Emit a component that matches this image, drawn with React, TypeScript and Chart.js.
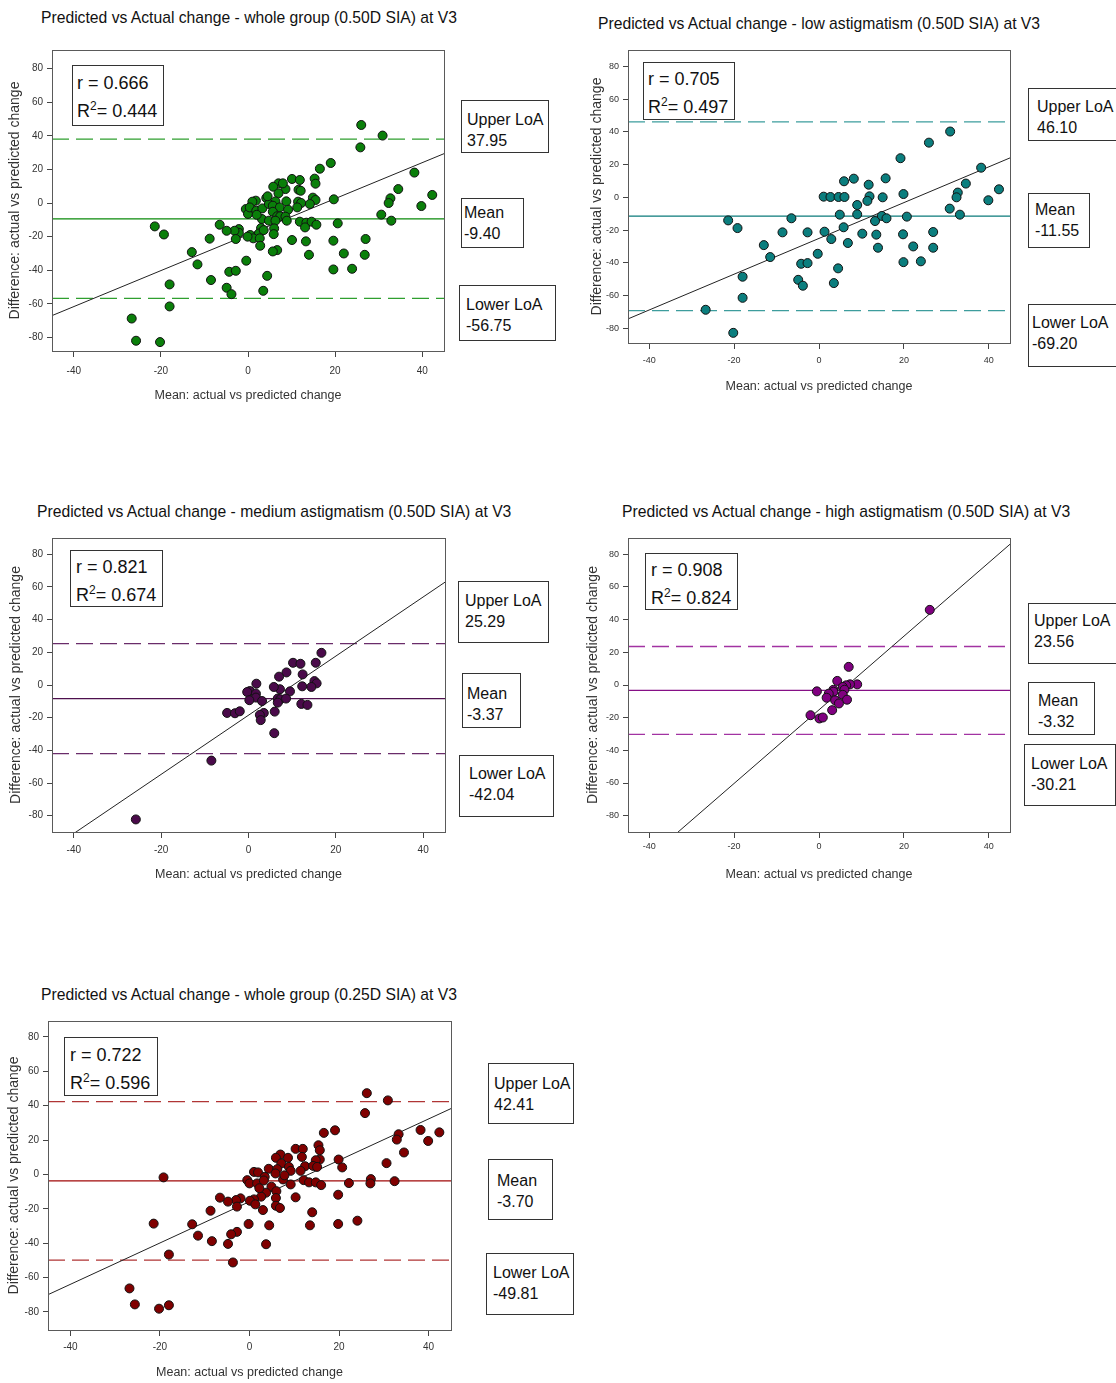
import React, { useEffect, useRef } from "react";
import { Chart, registerables } from "chart.js";

Chart.register(...registerables);

type Pt = [number, number];

// ---------------- shared axis data ----------------
const X_TICKS = [-40, -20, 0, 20, 40];
const Y_TICKS = [-80, -60, -40, -20, 0, 20, 40, 60, 80];
const X_TITLE = "Mean: actual vs predicted change";
const Y_TITLE = "Difference: actual vs predicted change";

const PLOT_TITLES = [
  "Predicted vs Actual change - whole group (0.50D SIA) at V3",
  "Predicted vs Actual change - low astigmatism (0.50D SIA) at V3",
  "Predicted vs Actual change - medium astigmatism (0.50D SIA) at V3",
  "Predicted vs Actual change - high astigmatism (0.50D SIA) at V3",
  "Predicted vs Actual change - whole group (0.25D SIA) at V3",
];

// ---------------- plot 1: whole group 0.50D ----------------
const whole050Points: Pt[] = [
  [26.0, 46.4], [30.9, 40.1], [25.8, 33.1], [19.0, 23.8], [16.5, 20.4], [38.2, 18.1], [34.5, 8.3], [42.3, 4.8],
  [39.8, -1.8], [32.7, 2.8], [32.3, 0.0], [30.6, -6.9], [32.9, -10.5], [19.7, 2.2], [20.6, -12.1], [19.6, -22.4],
  [27.0, -21.4], [26.8, -30.8], [22.0, -30.0], [19.6, -39.5], [23.9, -39.1], [10.1, 14.3], [11.9, 13.7], [15.3, 14.5],
  [15.5, 11.5], [11.6, 7.9], [12.1, 7.3], [8.6, 8.3], [7.0, 11.7], [8.0, 11.7], [5.8, 9.7], [7.0, 5.8],
  [14.9, 3.2], [15.5, 1.8], [11.5, 0.8], [12.2, 0.0], [14.2, -0.6], [11.3, -2.6], [8.8, 1.0], [6.3, 1.0],
  [4.2, 3.0], [1.8, 1.4], [1.0, 0.8], [-0.5, -3.6], [0.0, -6.5], [0.4, -2.6], [1.9, -4.6], [3.3, -3.2],
  [4.8, -0.6], [5.7, -1.6], [7.3, -2.6], [9.2, -4.0], [5.7, -5.2], [6.7, -7.9], [7.4, -7.9], [8.6, -8.1],
  [8.9, -10.5], [3.2, -9.5], [4.8, -10.5], [6.3, -10.5], [11.9, -11.1], [13.4, -11.7], [14.6, -11.1], [15.7, -12.9],
  [13.1, -14.5], [6.0, -15.1], [3.0, -14.9], [5.9, -18.5], [2.5, -18.1], [3.6, -16.1], [0.5, -19.0], [1.2, -21.0],
  [2.7, -21.0], [-0.1, -20.0], [-2.1, -15.5], [-2.1, -17.7], [-3.1, -16.5], [-4.9, -16.5], [-6.5, -12.9], [-2.8, -21.4],
  [-8.8, -21.2], [10.1, -22.0], [13.3, -22.8], [14.0, -30.8], [2.8, -25.4], [6.7, -28.0], [5.7, -28.8], [-0.4, -34.3],
  [-4.3, -40.9], [-2.8, -40.3], [4.4, -43.3], [-4.9, -50.4], [-3.8, -54.2], [3.5, -52.2], [-8.5, -45.8], [-11.6, -36.5],
  [-12.9, -29.2], [-21.4, -13.9], [-19.3, -18.7], [-18.0, -48.4], [-18.0, -61.5], [-26.7, -68.7], [-25.7, -81.9], [-20.2, -82.7],
  [4.5, 4.0], [2.0, -7.0],
];
const whole050Lines = [-9.4, 37.95, -56.75]; // mean, upper LoA, lower LoA
const whole050Fit = [-18.8, 1.07]; // intercept, slope
const whole050Stats = ["0.666", "0.444"]; // r, R²
const whole050Labels = ["37.95", "-9.40", "-56.75"]; // upper, mean, lower

// ---------------- plot 2: low astigmatism ----------------
const lowPoints: Pt[] = [
  [30.9, 40.2], [25.9, 33.4], [19.2, 23.9], [38.2, 18.1], [34.6, 8.4], [32.7, 2.9], [32.4, 0.0], [42.4, 4.9],
  [39.9, -1.8], [30.8, -6.9], [33.2, -10.6], [19.9, 2.0], [20.7, -11.8], [19.8, -22.6], [26.9, -21.2], [26.9, -30.8],
  [22.2, -30.0], [19.9, -39.6], [24.0, -39.1], [5.9, 9.8], [8.2, 11.4], [11.7, 7.7], [15.7, 11.6], [11.9, 0.6],
  [11.4, -2.2], [9.0, -4.7], [15.0, 0.0], [1.1, 0.4], [2.7, 0.2], [4.6, 0.2], [6.0, 0.2], [4.9, -10.6],
  [9.0, -10.4], [14.8, -11.4], [15.9, -12.8], [13.2, -14.5], [5.8, -18.3], [1.3, -21.0], [2.9, -25.5], [6.8, -27.9],
  [10.2, -22.2], [13.5, -22.8], [13.9, -30.8], [-0.3, -34.5], [4.5, -43.4], [3.5, -52.4], [-2.7, -21.4], [-6.5, -12.8],
  [-8.6, -21.4], [-13.0, -29.2], [-11.5, -36.5], [-4.2, -40.6], [-2.7, -40.2], [-4.9, -50.4], [-3.8, -54.0], [-21.4, -14.1],
  [-19.2, -18.8], [-18.0, -48.5], [-18.0, -61.4], [-26.7, -68.7], [-20.2, -82.8],
];
const lowLines = [-11.55, 46.1, -69.2];
const lowFit = [-25.1, 1.093];
const lowStats = ["0.705", "0.497"];
const lowLabels = ["46.10", "-11.55", "-69.20"];

// ---------------- plot 3: medium astigmatism ----------------
const mediumPoints: Pt[] = [
  [16.7, 19.7], [15.4, 13.6], [10.2, 13.6], [11.9, 13.0], [8.7, 7.7], [7.0, 5.1], [12.4, 6.5], [15.1, 2.4],
  [15.6, 1.0], [14.4, -1.2], [12.3, -0.8], [9.5, -3.9], [7.2, -2.6], [5.8, -1.2], [1.8, 0.8], [0.3, -3.7],
  [-0.3, -4.3], [1.7, -5.3], [1.7, -7.7], [0.2, -9.3], [3.1, -9.8], [6.7, -8.3], [7.3, -8.7], [8.6, -8.3],
  [6.7, -10.8], [12.1, -11.6], [13.5, -12.2], [3.5, -17.1], [2.6, -18.3], [2.8, -21.5], [6.0, -16.3], [-4.9, -17.1],
  [-3.1, -17.3], [-2.0, -16.1], [5.9, -29.5], [-8.5, -46.3], [-25.8, -82.3],
];
const mediumLines = [-8.38, 25.29, -42.04];
const mediumFit = [-18.5, 1.81];
const mediumStats = ["0.821", "0.674"];
const mediumLabels = ["25.29", "-3.37", "-42.04"];

// ---------------- plot 4: high astigmatism ----------------
const highPoints: Pt[] = [
  [26.1, 46.0], [7.0, 11.1], [4.3, 2.5], [9.0, 0.4], [7.3, 0.4], [6.4, -0.2], [5.6, -1.2], [6.0, -2.9],
  [3.4, -2.9], [3.4, -4.1], [-0.5, -3.9], [2.3, -5.3], [5.6, -6.0], [1.8, -7.8], [3.8, -9.4], [6.6, -9.0],
  [4.7, -11.3], [3.1, -15.4], [-2.0, -18.5], [0.1, -20.5], [0.9, -19.9],
];
const highLines = [-3.32, 23.56, -30.21];
const highFit = [-15.2, 2.253];
const highStats = ["0.908", "0.824"];
const highLabels = ["23.56", "-3.32", "-30.21"];

// ---------------- plot 5: whole group 0.25D ----------------
const whole025Points: Pt[] = [
  [26.2, 47.3], [30.9, 43.1], [25.8, 35.7], [19.1, 25.7], [16.6, 24.2], [38.2, 25.9], [42.4, 24.5], [33.3, 23.4],
  [32.9, 20.3], [39.9, 19.5], [34.5, 12.8], [30.6, 6.6], [32.4, -3.9], [27.1, -2.7], [27.0, -5.2], [19.9, 8.7],
  [20.7, 4.1], [22.2, -5.0], [19.8, -11.8], [19.8, -28.8], [24.1, -26.9], [13.5, -29.6], [14.0, -22.0], [10.3, 14.9],
  [11.9, 14.9], [15.4, 17.0], [15.7, 14.1], [6.9, 11.6], [5.9, 9.7], [8.6, 9.7], [11.7, 10.2], [15.7, 8.7],
  [14.8, 8.3], [7.1, 6.4], [8.8, 4.4], [12.4, 4.8], [14.2, 5.0], [15.1, 4.4], [4.3, 3.3], [6.2, 3.1],
  [11.4, 2.1], [9.2, 2.1], [1.0, 1.5], [1.9, 1.2], [-0.5, -3.3], [0.0, -5.2], [1.7, -5.2], [3.4, -1.4],
  [5.8, 0.6], [7.5, -2.9], [9.2, -5.8], [12.1, -3.3], [13.3, -4.6], [14.8, -4.6], [16.0, -6.2], [4.9, -7.1],
  [6.0, -9.7], [3.7, -10.6], [2.6, -12.9], [1.0, -14.5], [0.1, -15.3], [-2.0, -13.9], [-3.0, -14.9], [-4.8, -15.8],
  [-6.6, -13.5], [1.3, -17.4], [5.9, -13.7], [5.9, -18.2], [6.8, -19.5], [10.3, -13.3], [-2.8, -18.7], [3.0, -20.7],
  [-8.7, -21.1], [-0.2, -28.8], [4.4, -29.6], [-2.8, -33.4], [-4.1, -34.8], [3.7, -40.6], [-4.8, -40.4], [-8.4, -38.8],
  [-11.5, -35.6], [-12.8, -29.0], [-3.7, -51.2], [-18.0, -46.6], [-21.4, -28.6], [-19.2, -1.7], [-26.8, -66.3], [-25.6, -75.6],
  [-20.2, -78.1], [-18.0, -76.1], [3.2, -3.5], [7.8, -0.5], [2.2, -8.0],
];
const whole025Lines = [-3.7, 42.41, -49.81];
const whole025Fit = [-15.8, 1.203];
const whole025Stats = ["0.722", "0.596"];
const whole025Labels = ["42.41", "-3.70", "-49.81"];

// ---------------- layout / style (not data) ----------------
type Box = { x: number; y: number; w: number; h: number; tx: number; ty: number };
type Layout = {
  L: number; T: number; R: number; B: number;
  yMin: number; yMax: number;
  yAxisW: number; xAxisH: number; xTickPad: number; tickFont: number;
  point: string; meanLine: string; dash: string;
  titleX: number; titleY: number;
  statBox: Box; upBox: Box; meanBox: Box; lowBox: Box;
};

const LAYOUTS: Layout[] = [
  {
    L: 52, T: 50, R: 444, B: 351, yMin: -88, yMax: 91, yAxisW: 45, xAxisH: 52, xTickPad: 8, tickFont: 10,
    point: "#0a7f0a", meanLine: "#0a8a0a", dash: "#2f9f2f", titleX: 41, titleY: 18,
    statBox: { x: 72, y: 65, w: 92, h: 61, tx: 4, ty: 17 },
    upBox: { x: 461, y: 100, w: 88, h: 53, tx: 5, ty: 19 },
    meanBox: { x: 461, y: 198, w: 63, h: 50, tx: 2, ty: 14 },
    lowBox: { x: 459, y: 285, w: 97, h: 56, tx: 6, ty: 19 },
  },
  {
    L: 628, T: 50, R: 1010, B: 343, yMin: -89, yMax: 90, yAxisW: 39, xAxisH: 51, xTickPad: 6, tickFont: 9,
    point: "#0b7e7e", meanLine: "#0a7a7a", dash: "#3d9d9d", titleX: 598, titleY: 24,
    statBox: { x: 643, y: 62, w: 92, h: 58, tx: 4, ty: 16 },
    upBox: { x: 1028, y: 88, w: 100, h: 53, tx: 8, ty: 18 },
    meanBox: { x: 1028, y: 193, w: 62, h: 55, tx: 6, ty: 16 },
    lowBox: { x: 1028, y: 304, w: 100, h: 63, tx: 3, ty: 18 },
  },
  {
    L: 52, T: 538, R: 445, B: 832, yMin: -90, yMax: 90, yAxisW: 44, xAxisH: 50, xTickPad: 6, tickFont: 10,
    point: "#4a0a4a", meanLine: "#4e104e", dash: "#6a2c6a", titleX: 37, titleY: 512,
    statBox: { x: 70, y: 550, w: 93, h: 57, tx: 5, ty: 16 },
    upBox: { x: 458, y: 581, w: 91, h: 62, tx: 6, ty: 19 },
    meanBox: { x: 462, y: 673, w: 59, h: 55, tx: 4, ty: 20 },
    lowBox: { x: 459, y: 755, w: 95, h: 62, tx: 9, ty: 18 },
  },
  {
    L: 628, T: 538, R: 1010, B: 832, yMin: -90, yMax: 90, yAxisW: 43, xAxisH: 50, xTickPad: 3, tickFont: 9,
    point: "#800080", meanLine: "#861086", dash: "#a233a2", titleX: 622, titleY: 512,
    statBox: { x: 645, y: 553, w: 93, h: 57, tx: 5, ty: 16 },
    upBox: { x: 1028, y: 603, w: 100, h: 61, tx: 5, ty: 17 },
    meanBox: { x: 1028, y: 682, w: 67, h: 53, tx: 9, ty: 18 },
    lowBox: { x: 1024, y: 744, w: 92, h: 62, tx: 6, ty: 19 },
  },
  {
    L: 48, T: 1021, R: 451, B: 1330, yMin: -90.5, yMax: 89.3, yAxisW: 42, xAxisH: 50, xTickPad: 5, tickFont: 10,
    point: "#800000", meanLine: "#a00808", dash: "#b03535", titleX: 41, titleY: 995,
    statBox: { x: 64, y: 1037, w: 94, h: 59, tx: 5, ty: 17 },
    upBox: { x: 488, y: 1063, w: 86, h: 61, tx: 5, ty: 20 },
    meanBox: { x: 488, y: 1159, w: 65, h: 61, tx: 8, ty: 21 },
    lowBox: { x: 486, y: 1253, w: 88, h: 62, tx: 6, ty: 19 },
  },
];

type PlotData = { points: Pt[]; lines: number[]; fit: number[]; stats: string[]; labels: string[] };
const PLOTS: PlotData[] = [
  { points: whole050Points, lines: whole050Lines, fit: whole050Fit, stats: whole050Stats, labels: whole050Labels },
  { points: lowPoints, lines: lowLines, fit: lowFit, stats: lowStats, labels: lowLabels },
  { points: mediumPoints, lines: mediumLines, fit: mediumFit, stats: mediumStats, labels: mediumLabels },
  { points: highPoints, lines: highLines, fit: highFit, stats: highStats, labels: highLabels },
  { points: whole025Points, lines: whole025Lines, fit: whole025Fit, stats: whole025Stats, labels: whole025Labels },
];

const X_MIN = -45;
const X_MAX = 45;
const FONT = "Arial, 'Liberation Sans', sans-serif";
const PAD_T = 14;
const PAD_R = 6;

const framePlugin = {
  id: "frame",
  afterDatasetsDraw(chart: any) {
    const { ctx, chartArea } = chart;
    ctx.save();
    ctx.strokeStyle = "#5a5a5a";
    ctx.lineWidth = 1;
    ctx.strokeRect(
      Math.round(chartArea.left) + 0.5,
      Math.round(chartArea.top) + 0.5,
      Math.round(chartArea.right - chartArea.left),
      Math.round(chartArea.bottom - chartArea.top)
    );
    ctx.restore();
  },
};

function hLine(y: number, color: string, dash: number[], width: number) {
  return {
    type: "line" as const,
    data: [
      { x: X_MIN, y },
      { x: X_MAX, y },
    ],
    borderColor: color,
    borderWidth: width,
    borderDash: dash,
    pointRadius: 0,
    fill: false,
  };
}

function Plot({ data, lay, title }: { data: PlotData; lay: Layout; title: string }) {
  const ref = useRef<HTMLCanvasElement>(null);
  const cw = lay.yAxisW + (lay.R - lay.L) + PAD_R;
  const ch = PAD_T + (lay.B - lay.T) + lay.xAxisH;
  const left = lay.L - lay.yAxisW;
  const top = lay.T - PAD_T;

  useEffect(() => {
    if (!ref.current) return;
    const [mean, upper, lower] = data.lines;
    const [b0, b1] = data.fit;
    const chart = new Chart(ref.current, {
      type: "scatter",
      data: {
        datasets: [
          {
            type: "scatter",
            data: data.points.map(([x, y]) => ({ x, y })),
            backgroundColor: lay.point,
            borderColor: "#111",
            borderWidth: 1,
            pointRadius: 4.5,
          } as any,
          {
            type: "line",
            data: [
              { x: X_MIN, y: b0 + b1 * X_MIN },
              { x: X_MAX, y: b0 + b1 * X_MAX },
            ],
            borderColor: "#222",
            borderWidth: 1,
            pointRadius: 0,
            fill: false,
          } as any,
          hLine(mean, lay.meanLine, [], 1.2) as any,
          hLine(upper, lay.dash, [17, 7], 1.3) as any,
          hLine(lower, lay.dash, [17, 7], 1.3) as any,
        ],
      },
      options: {
        animation: false,
        responsive: false,
        devicePixelRatio: 1,
        layout: { padding: { left: 0, top: PAD_T, right: PAD_R, bottom: 0 } },
        plugins: {
          legend: { display: false },
          tooltip: { enabled: false },
        },
        scales: {
          x: {
            type: "linear",
            position: "bottom",
            min: X_MIN,
            max: X_MAX,
            afterBuildTicks: (s: any) => {
              s.ticks = X_TICKS.map((v) => ({ value: v }));
            },
            afterFit: (s: any) => {
              s.height = lay.xAxisH;
            },
            grid: { drawOnChartArea: false, drawTicks: true, tickLength: 6, color: "#444", tickColor: "#444" },
            border: { display: false },
            ticks: {
              font: { family: FONT, size: lay.tickFont },
              color: "#333",
              padding: lay.xTickPad,
              maxRotation: 0,
              autoSkip: false,
            },
            title: { display: true, text: X_TITLE, font: { family: FONT, size: 12.5 }, color: "#333", padding: 0 },
          },
          y: {
            type: "linear",
            position: "left",
            min: lay.yMin,
            max: lay.yMax,
            afterBuildTicks: (s: any) => {
              s.ticks = Y_TICKS.map((v) => ({ value: v }));
            },
            afterFit: (s: any) => {
              s.width = lay.yAxisW;
            },
            grid: { drawOnChartArea: false, drawTicks: true, tickLength: 5, color: "#444", tickColor: "#444" },
            border: { display: false },
            ticks: {
              font: { family: FONT, size: lay.tickFont },
              color: "#333",
              padding: 4,
              autoSkip: false,
            },
            title: { display: true, text: Y_TITLE, font: { family: FONT, size: 14 }, color: "#333", padding: 0 },
          },
        },
      } as any,
      plugins: [framePlugin],
    });
    return () => chart.destroy();
  }, []);

  const boxStyle = (b: Box, fs: number): React.CSSProperties => ({
    position: "absolute",
    left: b.x,
    top: b.y,
    width: b.w,
    height: b.h,
    boxSizing: "border-box",
    border: "1px solid #333",
    background: "#fff",
    fontFamily: FONT,
    fontSize: fs,
    color: "#111",
    overflow: "hidden",
  });

  const loaBox = (b: Box, l1: string, l2: string) => (
    <div style={boxStyle(b, 16)}>
      <div style={{ position: "absolute", left: b.tx, top: b.ty - 11, lineHeight: "21px", whiteSpace: "nowrap" }}>
        {l1}
        <br />
        {l2}
      </div>
    </div>
  );

  return (
    <>
      <div
        style={{
          position: "absolute",
          left: lay.titleX,
          top: lay.titleY - 9,
          fontFamily: FONT,
          fontSize: 15.7,
          lineHeight: "18px",
          color: "#111",
          whiteSpace: "nowrap",
        }}
      >
        {title}
      </div>
      <canvas
        ref={ref}
        width={cw}
        height={ch}
        style={{ position: "absolute", left, top, width: cw, height: ch }}
      />
      <div style={boxStyle(lay.statBox, 18)}>
        <div
          style={{
            position: "absolute",
            left: lay.statBox.tx,
            top: lay.statBox.ty - 14,
            lineHeight: "28px",
            whiteSpace: "nowrap",
          }}
        >
          r = {data.stats[0]}
          <br />
          R<sup style={{ fontSize: 12, verticalAlign: "7px", lineHeight: 0 }}>2</sup>= {data.stats[1]}
        </div>
      </div>
      {loaBox(lay.upBox, "Upper LoA", data.labels[0])}
      {loaBox(lay.meanBox, "Mean", data.labels[1])}
      {loaBox(lay.lowBox, "Lower LoA", data.labels[2])}
    </>
  );
}

export default function App() {
  return (
    <div
      style={{
        position: "absolute",
        left: 0,
        top: 0,
        width: 1116,
        height: 1383,
        background: "#fff",
        overflow: "hidden",
      }}
    >
      {PLOTS.map((d, i) => (
        <Plot key={i} data={d} lay={LAYOUTS[i]} title={PLOT_TITLES[i]} />
      ))}
    </div>
  );
}
